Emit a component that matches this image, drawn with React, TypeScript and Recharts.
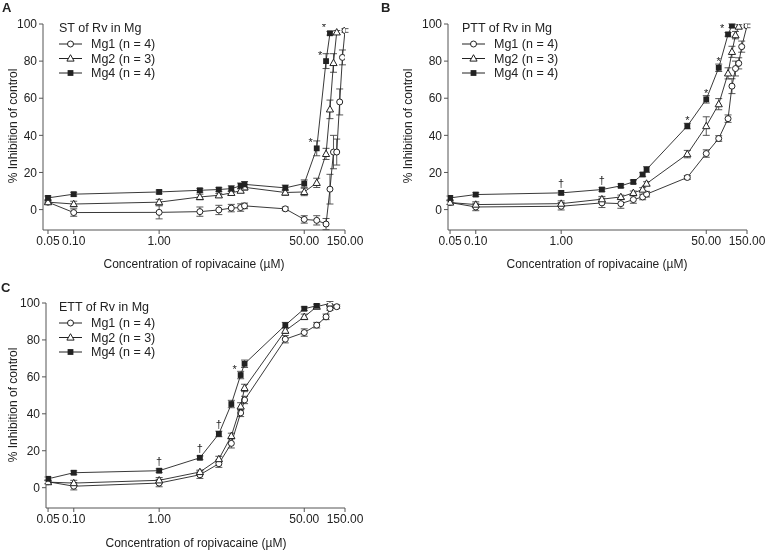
import { ScatterChart, Scatter, XAxis, YAxis, ErrorBar } from 'recharts';

// concentrations of ropivacaine (µM); series below are aligned to this list, null = not measured
const doses = [0.05, 0.1, 1, 3, 5, 7, 9, 10, 30, 50, 70, 90, 100, 110, 120, 130, 140, 150];
const xTicks = [0.05, 0.1, 1, 50, 150];
const yTicks = [0, 20, 40, 60, 80, 100];
const groupNames = ['Mg1 (n = 4)', 'Mg2 (n = 3)', 'Mg4 (n = 4)'];

// A: ST
const stMg1 = [4, -1.6, -1.5, -1.1, -0.2, 0.8, 1.1, 2, 0.4, -5.3, -5.8, -7.8, 11, 31, 31, 58, 82, 96.5];
const stMg1Err = [1, 2, 3.5, 2.5, 2.5, 2, 2, 1.5, 1, 2, 2.5, 3, 8, 9, 7, 7, 4, 1];
const stMg2 = [4, 3, 4, 6.8, 7.7, 9, 10.2, 12, 9.2, 9.5, 14.4, 30, 54, 79, 95.5, null, null, null];
const stMg2Err = [1, 1.5, 1.5, 1.5, 1, 1, 1, 1.5, 1.5, 2, 2.5, 3, 5, 5, 1, null, null, null];
const stMg4 = [6.3, 8.3, 9.5, 10.4, 10.8, 11.3, 12.8, 13.6, 11.7, 14, 33, 80, 95, null, null, null, null, null];
const stMg4Err = [1, 1, 1, 1, 1, 1.5, 1.5, 1.5, 1.5, 2, 4, 4, 1, null, null, null, null, null];

// B: PTT
const pttMg1 = [3.8, 1.4, 1.8, 3.6, 3.2, 5.4, 6.8, 8.3, 17.3, 30.2, 38.3, 49, 66.5, 76, 78.8, 87.8, null, 99];
const pttMg1Err = [1, 2, 2, 2.5, 2.5, 2, 1.5, 1.5, 1, 2, 1.5, 2, 4, 4, 3, 3, null, 1];
const pttMg2 = [3.8, 2.7, 3.2, 5.6, 6.8, 9, 10.8, 14, 29.9, 45, 56.8, 73.4, 85, 94, 98.6, null, null, null];
const pttMg2Err = [1, 1.5, 1.5, 1.5, 1, 1, 1, 1, 2, 5, 3, 3, 3, 2, 1, null, null, null];
const pttMg4 = [6.3, 8.1, 9, 10.8, 12.8, 14.9, 18.9, 21.6, 45, 59.4, 76.4, 94.4, 99.1, null, null, null, null, null];
const pttMg4Err = [1, 1, 1, 1, 1, 1, 1, 1.5, 1.5, 2, 2, 1, 1, null, null, null, null, null];

// C: ETT
const ettMg1 = [3.2, 0.8, 2.5, 7, 13, 24, 40.5, 47.5, 80.4, 84, 88, 92.5, 97, null, 98, null, null, null];
const ettMg1Err = [1, 2, 2, 2, 2, 2.5, 2, 2, 2, 2, 1.5, 1.5, 1, null, 1, null, null, null];
const ettMg2 = [3, 2.5, 4, 8.5, 15.5, 28, 44, 54, 85, 92.5, 98, null, 99.8, null, null, null, null, null];
const ettMg2Err = [1, 1.5, 1.5, 1, 1.5, 1.5, 2, 2, 1.5, 1.5, 1, null, 1, null, null, null, null, null];
const ettMg4 = [4.8, 8.1, 9.2, 16.2, 29.1, 45.3, 61, 67.1, 88, 96.9, 98.5, null, null, null, null, null, null, null];
const ettMg4Err = [1, 1, 1, 1, 1.5, 2, 2, 2, 1.5, 1, 1, null, null, null, null, null, null, null];

// significance marks over Mg4
const stNotes = [
  { x: 70, y: 33, s: '*', side: 'left' },
  { x: 90, y: 80, s: '*', side: 'left' },
  { x: 100, y: 95, s: '*', side: 'left' },
];
const pttNotes = [
  { x: 1, y: 9, s: '†', side: 'up' },
  { x: 3, y: 10.8, s: '†', side: 'up' },
  { x: 30, y: 45, s: '*', side: 'up' },
  { x: 50, y: 59.4, s: '*', side: 'up' },
  { x: 70, y: 76.4, s: '*', side: 'up' },
  { x: 90, y: 94.4, s: '*', side: 'left' },
  { x: 100, y: 99.1, s: '†', side: 'up' },
];
const ettNotes = [
  { x: 1, y: 9.2, s: '†', side: 'up' },
  { x: 3, y: 16.2, s: '†', side: 'up' },
  { x: 5, y: 29.1, s: '†', side: 'up' },
  { x: 9, y: 61, s: '*', side: 'left' },
];

const INK = '#222';
const FONT = '"Liberation Sans", Arial, Helvetica, sans-serif';

const toPoints = (vals: (number | null)[], errs: (number | null)[]) =>
  doses
    .map((x, i) => ({ x, y: vals[i], e: errs[i] }))
    .filter((p) => p.y !== null);

const OpenCircle = (p: any) => (
  <circle cx={p.cx} cy={p.cy} r={3} fill="#fff" stroke={INK} strokeWidth={1} />
);
const OpenTriangle = (p: any) => (
  <path
    d={`M${p.cx},${p.cy - 3.8}L${p.cx + 3.6},${p.cy + 2.6}L${p.cx - 3.6},${p.cy + 2.6}Z`}
    fill="#fff"
    stroke={INK}
    strokeWidth={1}
  />
);
const FilledSquare = (p: any) => (
  <rect x={p.cx - 2.9} y={p.cy - 2.9} width={5.8} height={5.8} fill={INK} />
);
const markers = [OpenCircle, OpenTriangle, FilledSquare];

const NoteMark = (p: any) => {
  const d = p.payload ?? p;
  const star = d.s === '*';
  const dx = d.side === 'left' ? -6 : 0;
  const dy = -10 + (star ? 7.5 : 4.2);
  return (
    <g transform={`rotate(0.01 ${p.cx} ${p.cy})`}>
      <text
        x={p.cx + dx}
        y={p.cy + dy}
        textAnchor="middle"
        fontSize={11}
        fontFamily={FONT}
        fill={INK}
      >
        {d.s}
      </text>
    </g>
  );
};

type PanelProps = {
  left: number;
  top: number;
  width: number;
  height: number;
  margin: { top: number; right: number; bottom: number; left: number };
  xMin: number;
  series: { vals: (number | null)[]; errs: (number | null)[] }[];
  notes: { x: number; y: number; s: string; side: string }[];
};

function Panel({ left, top, width, height, margin, xMin, series, notes }: PanelProps) {
  const axisStyle = { stroke: '#555', strokeWidth: 1 };
  return (
    <div style={{ position: 'absolute', left, top, willChange: 'transform' }}>
      <ScatterChart width={width} height={height} margin={margin}>
        <XAxis
          dataKey="x"
          type="number"
          scale="log"
          domain={[xMin, 150]}
          allowDataOverflow
          ticks={xTicks}
          interval={0}
          tickFormatter={(v: number) => v.toFixed(2)}
          axisLine={axisStyle}
          tickLine={axisStyle}
          tickSize={4}
          tickMargin={2}
          height={30}
          tick={{ fill: INK, fontSize: 12, fontFamily: FONT }}
        />
        <YAxis
          dataKey="y"
          type="number"
          domain={[-11, 100]}
          ticks={yTicks}
          interval={0}
          allowDataOverflow
          axisLine={axisStyle}
          tickLine={axisStyle}
          tickSize={4}
          tickMargin={2}
          width={30}
          tick={{ fill: INK, fontSize: 12, fontFamily: FONT }}
        />
        {series.map((s, i) => (
          <Scatter
            key={i}
            data={toPoints(s.vals, s.errs)}
            fill={INK}
            line={{ stroke: INK, strokeWidth: 0.9 }}
            lineType="joint"
            shape={markers[i]}
            isAnimationActive={false}
          >
            <ErrorBar dataKey="e" direction="y" width={3.5} stroke="#444" strokeWidth={0.9} />
          </Scatter>
        ))}
        <Scatter data={notes} shape={NoteMark} isAnimationActive={false} />
      </ScatterChart>
    </div>
  );
}

function LegendBlock({ x, y, title }: { x: number; y: number; title: string }) {
  const rows = [16, 30.5, 45];
  return (
    <g fontFamily={FONT} fontSize={12.5} fill={INK}>
      <text x={x} y={y + 4.3}>{title}</text>
      {groupNames.map((name, i) => {
        const cy = y + rows[i];
        const M = markers[i];
        return (
          <g key={name}>
            <line x1={x} x2={x + 23} y1={cy} y2={cy} stroke={INK} strokeWidth={1} />
            <M cx={x + 11.5} cy={cy} />
            <text x={x + 32} y={cy + 4.3}>{name}</text>
          </g>
        );
      })}
    </g>
  );
}

export default function App() {
  const xTitle = 'Concentration of ropivacaine (\u00b5M)';
  const yTitle = '% Inhibition of control';
  return (
    <div
      style={{
        position: 'absolute',
        left: 0,
        top: 0,
        width: 767,
        height: 550,
        background: '#fff',
        overflow: 'hidden',
      }}
    >
      <Panel
        left={0}
        top={0}
        width={380}
        height={270}
        margin={{ top: 24, right: 35, bottom: 10, left: 13 }}
        xMin={0.0437}
        series={[
          { vals: stMg1, errs: stMg1Err },
          { vals: stMg2, errs: stMg2Err },
          { vals: stMg4, errs: stMg4Err },
        ]}
        notes={stNotes}
      />
      <Panel
        left={380}
        top={0}
        width={387}
        height={270}
        margin={{ top: 24, right: 20, bottom: 10, left: 38 }}
        xMin={0.0473}
        series={[
          { vals: pttMg1, errs: pttMg1Err },
          { vals: pttMg2, errs: pttMg2Err },
          { vals: pttMg4, errs: pttMg4Err },
        ]}
        notes={pttNotes}
      />
      <Panel
        left={0}
        top={270}
        width={380}
        height={280}
        margin={{ top: 33, right: 35, bottom: 12, left: 16 }}
        xMin={0.0473}
        series={[
          { vals: ettMg1, errs: ettMg1Err },
          { vals: ettMg2, errs: ettMg2Err },
          { vals: ettMg4, errs: ettMg4Err },
        ]}
        notes={ettNotes}
      />
      <svg
        width={767}
        height={550}
        style={{ position: 'absolute', left: 0, top: 0, pointerEvents: 'none' }}
      >
        <g fontFamily={FONT} fill={INK}>
          <text x={2} y={12} fontSize={13} fontWeight="bold">A</text>
          <text x={381} y={12} fontSize={13} fontWeight="bold">B</text>
          <text x={1} y={292} fontSize={13} fontWeight="bold">C</text>

          <text x={194} y={268} fontSize={12} textAnchor="middle">{xTitle}</text>
          <text x={597} y={268} fontSize={12} textAnchor="middle">{xTitle}</text>
          <text x={196} y={547} fontSize={12} textAnchor="middle">{xTitle}</text>

          <text transform="translate(17,126) rotate(-90)" fontSize={12} textAnchor="middle">{yTitle}</text>
          <text transform="translate(412,126) rotate(-90)" fontSize={12} textAnchor="middle">{yTitle}</text>
          <text transform="translate(17,405) rotate(-90)" fontSize={12} textAnchor="middle">{yTitle}</text>
        </g>
        <LegendBlock x={59} y={28} title="ST of Rv in Mg" />
        <LegendBlock x={462} y={28} title="PTT of Rv in Mg" />
        <LegendBlock x={59} y={307} title="ETT of Rv in Mg" />
      </svg>
    </div>
  );
}
